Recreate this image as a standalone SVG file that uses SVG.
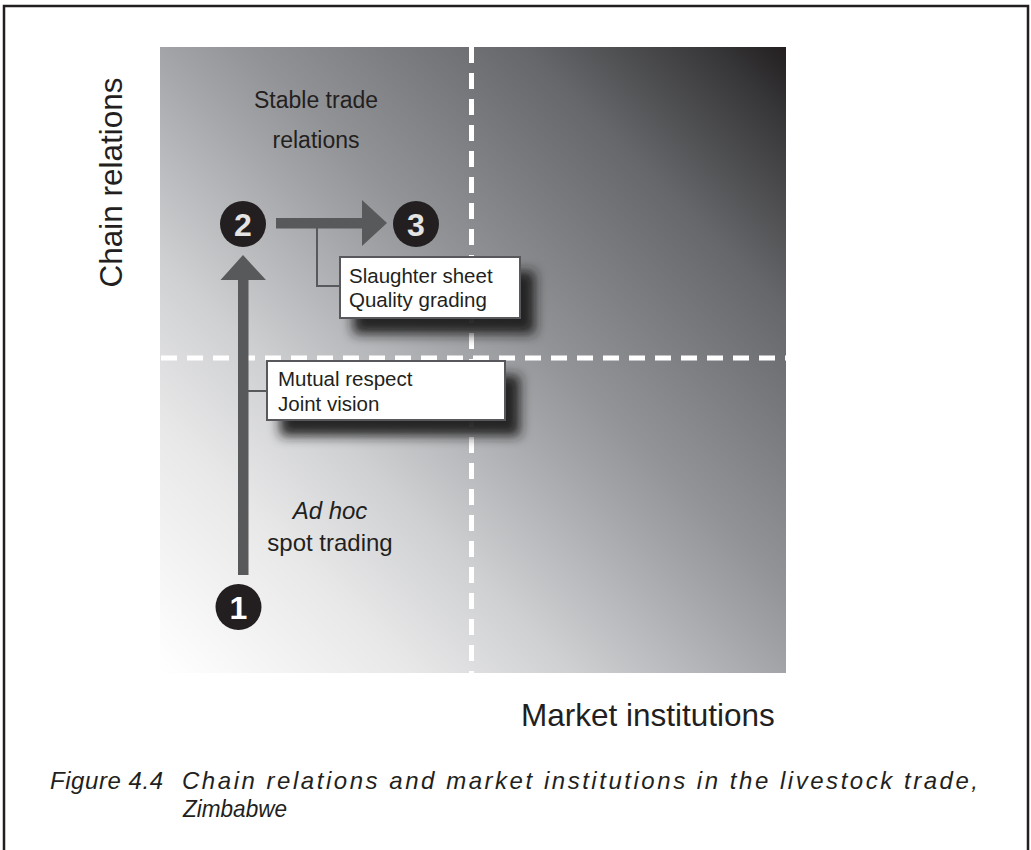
<svg xmlns="http://www.w3.org/2000/svg" width="1031" height="850" viewBox="0 0 1031 850">
  <defs>
    <linearGradient id="field" gradientUnits="userSpaceOnUse" x1="160" y1="673" x2="786" y2="47">
      <stop offset="0" stop-color="#ffffff"/>
      <stop offset="0.2" stop-color="#e8e8e9"/>
      <stop offset="0.33" stop-color="#cfd0d2"/>
      <stop offset="0.5" stop-color="#a3a4a7"/>
      <stop offset="0.57" stop-color="#929396"/>
      <stop offset="0.71" stop-color="#76777a"/>
      <stop offset="0.79" stop-color="#66676a"/>
      <stop offset="0.93" stop-color="#3a3a3c"/>
      <stop offset="1" stop-color="#231f20"/>
    </linearGradient>
    <filter id="shadow" x="-20%" y="-30%" width="150%" height="190%">
      <feDropShadow dx="14" dy="15" stdDeviation="6" flood-color="#1a1a1a" flood-opacity="0.95"/>
    </filter>
  </defs>
  <style>
    .sans { font-family: "Liberation Sans", Arial, sans-serif; fill: #231f20; }
    .dash { stroke: #ffffff; stroke-width: 5; stroke-dasharray: 16 10; fill: none; }
    .arrow { fill: #58595b; }
    .lead { stroke: #58595b; stroke-width: 2; fill: none; }
    .box { fill: #ffffff; stroke: #58595b; stroke-width: 2; }
    .disc { fill: #231f20; }
    .num { font-family: "Liberation Sans", Arial, sans-serif; font-weight: bold; font-size: 32px; text-anchor: middle; }
  </style>

  <!-- outer frame -->
  <rect x="4" y="6" width="1024" height="850" fill="#ffffff" stroke="#231f20" stroke-width="2.5"/>

  <!-- quadrant field -->
  <g id="field-area">
    <rect x="160" y="47" width="626" height="626" fill="url(#field)"/>
    <line class="dash" x1="471.5" y1="47" x2="471.5" y2="673"/>
    <line class="dash" x1="161" y1="358" x2="786" y2="358"/>
  </g>

  <!-- axis labels -->
  <text class="sans" font-size="31.5" transform="translate(122,182.5) rotate(-90)" text-anchor="middle">Chain relations</text>
  <text class="sans" font-size="31.5" x="521" y="726">Market institutions</text>

  <!-- quadrant labels -->
  <g id="label-stable">
    <text class="sans" font-size="23" x="316" y="108" text-anchor="middle">Stable trade</text>
    <text class="sans" font-size="23" x="316" y="148" text-anchor="middle">relations</text>
  </g>
  <g id="label-adhoc">
    <text class="sans" font-size="24" x="330" y="519" text-anchor="middle" font-style="italic">Ad hoc</text>
    <text class="sans" font-size="24" x="330" y="551" text-anchor="middle">spot trading</text>
  </g>

  <!-- connectors -->
  <g id="connectors">
    <rect class="arrow" x="238" y="279" width="10.5" height="296"/>
    <polygon class="arrow" points="220.5,280 266,280 243,255"/>
    <rect class="arrow" x="276" y="218" width="87" height="10.5"/>
    <polygon class="arrow" points="362,200 362,246 387,223"/>
    <polyline class="lead" points="317,228 317,286 341,286"/>
    <line class="lead" x1="248" y1="391" x2="268" y2="391"/>
  </g>

  <!-- stage markers -->
  <g id="stage-1">
    <circle class="disc" cx="238.5" cy="607" r="23"/>
    <text class="num" x="238.5" y="619" fill="#ffffff">1</text>
  </g>
  <g id="stage-2">
    <circle class="disc" cx="243" cy="224" r="23"/>
    <text class="num" x="243" y="236" fill="#e4e4e4">2</text>
  </g>
  <g id="stage-3">
    <circle class="disc" cx="416" cy="224" r="23"/>
    <text class="num" x="416" y="236" fill="#e4e4e4">3</text>
  </g>

  <!-- annotation boxes -->
  <g id="box-slaughter">
    <rect class="box" x="340" y="257" width="180" height="61" filter="url(#shadow)"/>
    <text class="sans" font-size="20.5" x="349" y="283">Slaughter sheet</text>
    <text class="sans" font-size="20.5" x="349" y="307">Quality grading</text>
  </g>
  <g id="box-mutual">
    <rect class="box" x="267" y="361" width="238" height="59" filter="url(#shadow)"/>
    <text class="sans" font-size="20.5" x="278" y="386">Mutual respect</text>
    <text class="sans" font-size="20.5" x="278" y="411">Joint vision</text>
  </g>

  <!-- caption -->
  <g id="caption" font-style="italic">
    <text class="sans" font-size="24" x="50" y="789" textLength="113" lengthAdjust="spacing">Figure 4.4</text>
    <text class="sans" font-size="24" x="182" y="789" textLength="796" lengthAdjust="spacing">Chain relations and market institutions in the livestock trade,</text>
    <text class="sans" font-size="24" x="183" y="817" textLength="104" lengthAdjust="spacingAndGlyphs">Zimbabwe</text>
  </g>
</svg>
